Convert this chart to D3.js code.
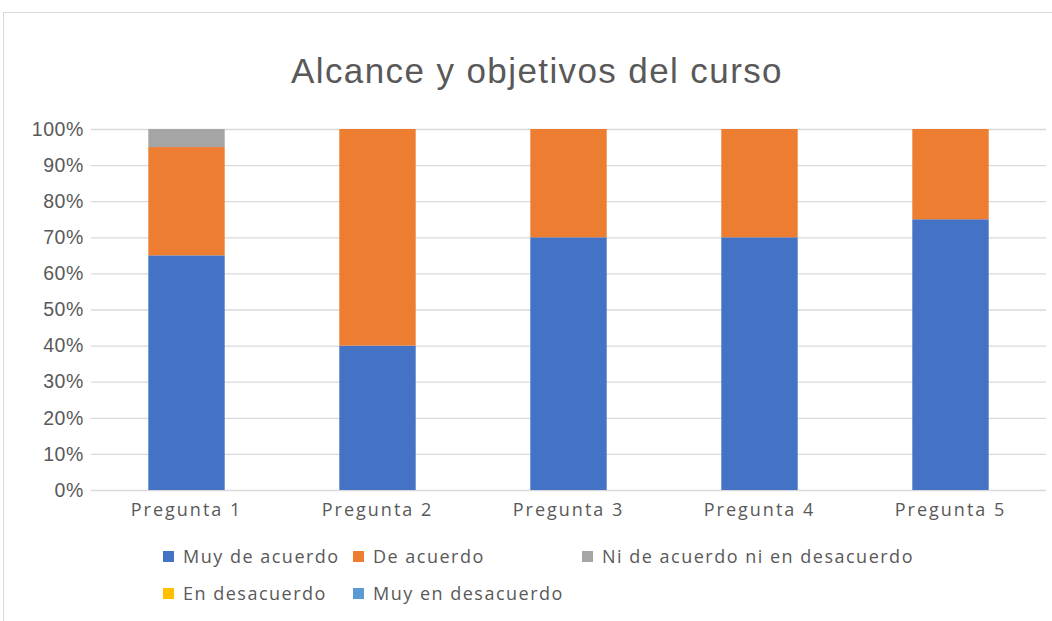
<!DOCTYPE html>
<html>
<head>
<meta charset="utf-8">
<script src="https://cdn.jsdelivr.net/npm/d3@7"></script>
<style>
  body { margin: 0; background: #fff; }
  svg text { fill: #595959; }
</style>
</head>
<body>
<svg class="chart" width="1052" height="621"></svg>
<script>
const categories = ['Pregunta 1', 'Pregunta 2', 'Pregunta 3', 'Pregunta 4', 'Pregunta 5'];
const seriesNames = ['Muy de acuerdo', 'De acuerdo', 'Ni de acuerdo ni en desacuerdo', 'En desacuerdo', 'Muy en desacuerdo'];
const muyDeAcuerdo = [0.65, 0.40, 0.70, 0.70, 0.75];
const deAcuerdo = [0.30, 0.60, 0.30, 0.30, 0.25];
const niNi = [0.05, 0, 0, 0, 0];
const enDesacuerdo = [0, 0, 0, 0, 0];
const muyEnDesacuerdo = [0, 0, 0, 0, 0];
const yTicks = [0, 0.1, 0.2, 0.3, 0.4, 0.5, 0.6, 0.7, 0.8, 0.9, 1];
const colors = ['#4472C4', '#ED7D31', '#A5A5A5', '#FFC000', '#5B9BD5'];

const svg = d3.select('.chart');
const plot = {l: 91, r: 1046, t: 129, b: 490};

// chart frame
svg.append('rect')
  .attr('x', 3.5).attr('y', 12.5)
  .attr('width', 1060).attr('height', 620)
  .attr('fill', 'none').attr('stroke', '#d9d9d9');

const table = categories.map((c, i) => ({
  cat: c,
  [seriesNames[0]]: muyDeAcuerdo[i],
  [seriesNames[1]]: deAcuerdo[i],
  [seriesNames[2]]: niNi[i],
  [seriesNames[3]]: enDesacuerdo[i],
  [seriesNames[4]]: muyEnDesacuerdo[i]
}));
const stacked = d3.stack().keys(seriesNames)(table);

const scaleX = d3.scaleBand()
  .domain(categories)
  .range([plot.l, plot.r])
  .paddingInner(0.6)
  .paddingOuter(0.3);
const scaleY = d3.scaleLinear()
  .domain([0, 1])
  .range([plot.b, plot.t]);

// gridlines + y labels
const yAxis = svg.append('g')
  .attr('transform', `translate(${plot.l},0)`)
  .call(d3.axisLeft(scaleY).tickValues(yTicks).tickFormat(d3.format('.0%'))
    .tickSize(-(plot.r - plot.l)).tickPadding(7));
yAxis.select('.domain').remove();
yAxis.selectAll('line').attr('stroke', '#d9d9d9').attr('stroke-width', 1.3);
yAxis.selectAll('text')
  .attr('font-family', '"Liberation Sans", Arial, sans-serif')
  .attr('font-size', 19.5)
  .attr('letter-spacing', 0.6)
  .attr('fill', '#595959');

// bars
svg.append('g').selectAll('g')
  .data(stacked)
  .join('g')
  .attr('fill', (d, i) => colors[i])
  .selectAll('rect')
  .data(d => d)
  .join('rect')
  .attr('x', d => scaleX(d.data.cat))
  .attr('width', scaleX.bandwidth())
  .attr('y', d => scaleY(d[1]))
  .attr('height', d => scaleY(d[0]) - scaleY(d[1]));

// x labels
const xAxis = svg.append('g')
  .attr('transform', `translate(0,${plot.b})`)
  .call(d3.axisBottom(scaleX).tickSize(0).tickPadding(13));
xAxis.select('.domain').remove();
xAxis.selectAll('text')
  .attr('font-family', '"Open Sans", "Noto Sans", sans-serif')
  .attr('font-size', 18)
  .attr('letter-spacing', 2)
  .attr('fill', '#595959');

// title
svg.append('text')
  .attr('x', 537).attr('y', 83)
  .attr('text-anchor', 'middle')
  .attr('font-family', '"Liberation Sans", Arial, sans-serif')
  .attr('font-size', 35)
  .attr('letter-spacing', 1.4)
  .text('Alcance y objetivos del curso');

// legend
const legendPos = [[163, 557], [353, 557], [582, 557], [163, 594], [353, 594]];
const legend = svg.append('g').selectAll('g')
  .data(seriesNames)
  .join('g')
  .attr('transform', (d, i) => `translate(${legendPos[i][0]},${legendPos[i][1]})`);
legend.append('rect')
  .attr('x', 0).attr('y', -6)
  .attr('width', 11).attr('height', 11)
  .attr('fill', (d, i) => colors[i]);
legend.append('text')
  .attr('x', 20).attr('y', 0)
  .attr('dy', '0.35em')
  .attr('font-family', '"Open Sans", "Noto Sans", sans-serif')
  .attr('font-size', 18)
  .attr('letter-spacing', 1.5)
  .text(d => d);
</script>
</body>
</html>
